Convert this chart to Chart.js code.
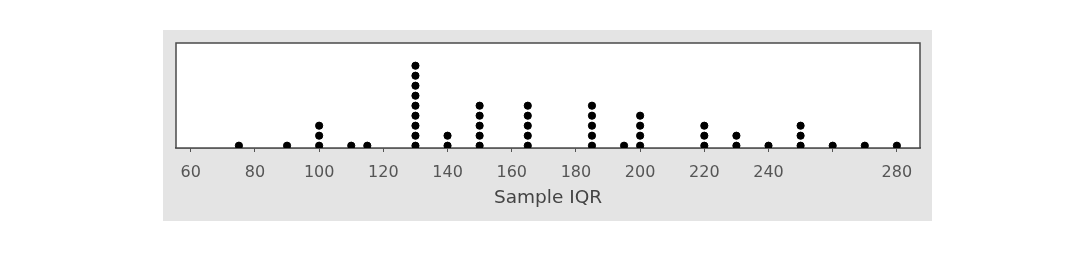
<!DOCTYPE html>
<html>
<head>
<meta charset="utf-8">
<script src="https://cdn.jsdelivr.net/npm/chart.js@4/dist/chart.umd.min.js"></script>
<style>
html,body{margin:0;padding:0;background:#fff;width:1080px;height:271px;overflow:hidden}
#panel{position:absolute;left:163px;top:30px;width:769px;height:191px;background:#e4e4e4}
</style>
</head>
<body>
<div id="panel"><canvas id="c" width="769" height="191"></canvas></div>
<script>
// sample IQR values and how many dots sit on each
const iqrValues=[75,90,100,110,115,130,140,150,165,185,195,200,220,230,240,250,260,270,280]
const dotCounts=[1,1,3,1,1,9,2,5,5,5,1,4,3,2,1,3,1,1,1]
const tickValues=[60,80,100,120,140,160,180,200,220,240,260,280]
const tickLabels=['60','80','100','120','140','160','180','200','220','240','','280']

let pts=[]
iqrValues.forEach((v,i)=>{for(let k=1;k<=dotCounts[i];k++)pts.push({x:v,y:k})})

const frame={
id:'frame',
beforeDatasetsDraw(ch){
const a=ch.chartArea,x=ch.ctx
x.save()
x.fillStyle='#fff'
x.fillRect(a.left,a.top,a.right-a.left,a.bottom-a.top)
x.strokeStyle='#4a4a4a'
x.lineWidth=1.5
x.strokeRect(a.left,a.top,a.right-a.left,a.bottom-a.top)
x.restore()
}
}

new Chart(document.getElementById('c'),{
type:'scatter',
data:{datasets:[{data:pts,backgroundColor:'#000',borderColor:'#000',pointRadius:3.6,pointHoverRadius:3.6}]},
options:{
responsive:false,animation:false,
layout:{padding:{left:13,right:12,top:13,bottom:0}},
plugins:{legend:{display:false},tooltip:{enabled:false}},
scales:{
x:{
type:'linear',min:55.4,max:287.2,
afterBuildTicks:s=>{s.ticks=tickValues.map(v=>({value:v}))},
afterFit:s=>{s.height=73},
grid:{display:true,drawOnChartArea:false,drawTicks:true,tickLength:4,color:'#555'},
border:{display:true,color:'#4a4a4a',width:1.5},
ticks:{padding:11,color:'#555',font:{family:'DejaVu Sans',size:16},maxRotation:0,autoSkip:false,
callback:(v,i)=>tickLabels[i]},
title:{display:true,text:'Sample IQR',color:'#444',font:{family:'DejaVu Sans',size:18.5},padding:{top:0,bottom:12}}
},
y:{display:false,min:0.77,max:11.27}
}
},
plugins:[frame]
})
</script>
</body>
</html>
